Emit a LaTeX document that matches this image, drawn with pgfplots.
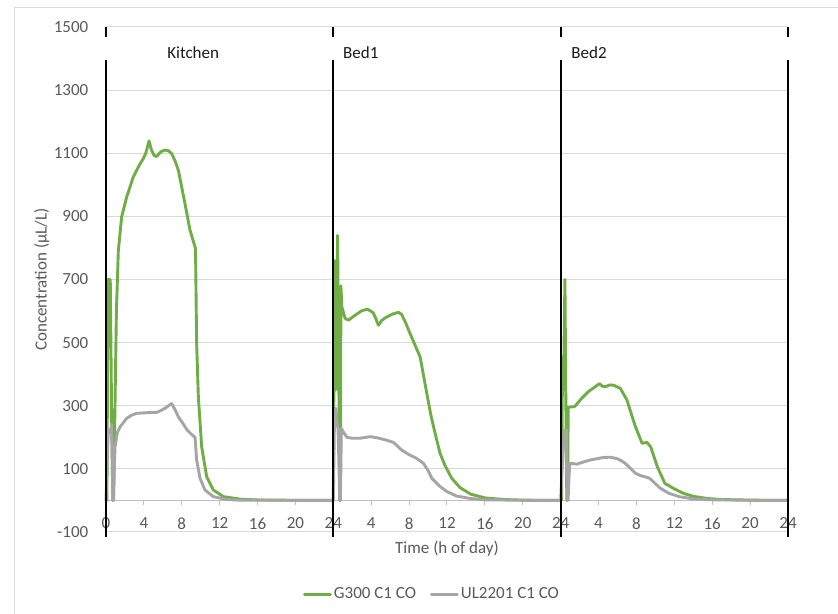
\documentclass[border=0pt]{standalone}
\usepackage{fontspec}
\setmainfont{Carlito}
\usepackage{pgfplots}
\pgfplotsset{compat=1.18}

\definecolor{cogreen}{HTML}{70AD47}
\definecolor{cogray}{HTML}{A5A5A5}
\definecolor{gridgray}{HTML}{D9D9D9}
\definecolor{axisgray}{HTML}{BFBFBF}
\definecolor{labelgray}{HTML}{595959}
\definecolor{framegray}{HTML}{D9D9D9}
\newcommand{\chartfont}{\fontsize{17bp}{20bp}\selectfont}

\begin{document}
\begin{tikzpicture}
\useasboundingbox (0,0) rectangle (838bp,614bp);
\draw[color=framegray, line width=1bp] (14bp,0) -- (14bp,606bp) -- (838bp,606bp);
\begin{axis}[
  at={(106bp,82bp)}, anchor=south west,
  scale only axis, width=682bp, height=505bp,
  xmin=0, xmax=72, ymin=-100, ymax=1500,
  clip=false,
  axis x line=middle, axis y line=left,
  axis line style={-},
  x axis line style={color=axisgray, line width=1bp},
  y axis line style={draw=none},
  hide obscured x ticks=false,
  hide obscured y ticks=false,
  xtick={0,4,...,72},
  xticklabels={0,4,8,12,16,20,24,4,8,12,16,20,24,4,8,12,16,20,24},
  ytick={-100,100,...,1500},
  ymajorgrids,
  grid style={color=gridgray, line width=1bp},
  xtick align=outside,
  major tick length=5bp,
  xtick style={color=axisgray, line width=1bp},
  ytick style={draw=none},
  /pgf/number format/assume math mode=true,
  /pgf/number format/1000 sep={},
  tick label style={font=\chartfont, text=labelgray},
  xticklabel style={anchor=north, inner sep=0pt, yshift=-12bp},
  yticklabel style={anchor=east, inner sep=0pt, xshift=-15bp},
  every axis x label/.style={at={(axis description cs:0.5,-0.032)}, anchor=center, font=\chartfont, text=labelgray},
  every axis y label/.style={at={(axis description cs:-0.094,0.5)}, anchor=center, rotate=90, font=\chartfont, text=labelgray},
  xlabel={Time (h of day)},
  ylabel={Concentration (µL/L)},
  legend columns=2,
  legend style={at={(axis description cs:0.478,-0.123)}, anchor=center,
    draw=none, fill=none, font=\chartfont, text=labelgray,
    /tikz/every even column/.append style={column sep=12bp}},
  legend image code/.code={\draw[#1] (0bp,0bp) -- (26bp,0bp);},
  every axis plot/.append style={line join=round, line cap=round},
]

% G300 C1 CO: kitchen, bedroom 1, bedroom 2 (0-24, 24-48, 48-72 h)
\addplot[color=cogreen, line width=2.9bp] coordinates {
  (0,0) (0.1,0) (0.2,700) (0.45,700) (0.6,250) (0.72,0) (0.8,0)
  (0.95,300) (1.1,600) (1.3,790) (1.65,898) (2.18,961) (2.88,1025)
  (3.6,1067) (3.94,1083) (4.2,1100) (4.54,1139) (4.8,1110) (5.1,1092)
  (5.35,1090) (5.8,1105) (6.23,1110) (6.6,1108) (6.93,1099) (7.3,1075)
  (7.64,1046) (8.34,940) (8.87,856) (9.45,798) (9.57,497) (9.75,328)
  (10.1,170) (10.63,75) (11.33,33) (12.4,12) (14.2,4) (16,1.5) (20,0.5) (24,0)
  (24.12,760) (24.25,350) (24.45,840) (24.55,500) (24.68,0) (24.75,0)
  (24.8,680) (24.9,613) (25.24,577) (25.6,571) (26.3,587) (27,601)
  (27.6,606) (28.2,595) (28.5,575) (28.76,555) (29.1,570) (29.46,578)
  (30.2,590) (30.87,596) (31.2,590) (31.6,565) (32.1,529) (33.16,455)
  (33.87,339) (34.3,270) (34.74,213) (35.27,149) (35.8,110) (36.5,70)
  (37.4,40) (38.5,20) (40,8) (42,3) (44,1) (48,0)
  (48.1,0) (48.2,455) (48.3,350) (48.45,700) (48.55,307) (48.65,0)
  (48.72,0) (48.8,295) (49.3,297) (49.5,298) (50.2,323) (50.9,344)
  (51.4,355) (52.1,370) (52.4,362) (52.7,360) (53.2,366) (53.6,365)
  (54.3,355) (55,318) (55.5,270) (55.9,233) (56.6,181) (57.1,184)
  (57.5,170) (58.2,107) (59,54) (60.1,35) (61,22) (62,13) (63.5,6)
  (65,3) (68,1) (72,0)
};
\addlegendentry{G300 C1 CO}

% UL2201 C1 CO
\addplot[color=cogray, line width=2.9bp] coordinates {
  (0,0) (0.1,100) (0.25,225) (0.45,215) (0.6,240) (0.72,0) (0.78,0)
  (0.95,170) (1.2,215) (1.48,233) (2.18,260) (2.7,270) (3.24,276)
  (4.3,278) (5.35,279) (5.8,285) (6.23,292) (6.6,300) (6.93,307)
  (7.3,287) (7.64,265) (8.1,245) (8.52,225) (9,210) (9.4,200)
  (9.57,128) (9.93,70) (10.45,33) (11.33,12) (12.7,3) (14,1) (24,0)
  (24.12,255) (24.27,292) (24.4,240) (24.5,228) (24.68,0) (24.75,0)
  (24.85,228) (25,220) (25.43,200) (26,197) (26.8,197) (27.9,202)
  (28.7,198) (29.6,191) (30.35,184) (31.2,160) (32,145) (32.8,133)
  (33.5,118) (34,95) (34.4,70) (35.27,44) (36,28) (37,14) (38.5,6)
  (40,2) (44,0.5) (48,0)
  (48.15,100) (48.4,223) (48.5,180) (48.6,223) (48.7,0) (48.78,0)
  (48.95,118) (49.7,115) (50.4,122) (51.1,128) (52.5,136) (53.2,137)
  (53.9,133) (54.4,126) (54.8,118) (55.9,86) (56.5,78) (56.9,75)
  (57.4,70) (58.5,39) (59.4,23) (60.5,12) (62,5) (64,2) (68,0.5) (72,0)
};
\addlegendentry{UL2201 C1 CO}

% room dividers
\foreach \d in {0,24,48,72} {
  \addplot[black, line width=1.8bp, forget plot, line cap=butt] coordinates {(\d,-116) (\d,1396)};
  \addplot[black, line width=1.8bp, forget plot, line cap=butt] coordinates {(\d,1468) (\d,1500)};
}

\node[font=\chartfont, text=black!90] at (axis cs:9.2,1419) {Kitchen};
\node[font=\chartfont, text=black!90] at (axis cs:26.9,1419) {Bed1};
\node[font=\chartfont, text=black!90] at (axis cs:51.0,1419) {Bed2};
\end{axis}
\end{tikzpicture}
\end{document}
